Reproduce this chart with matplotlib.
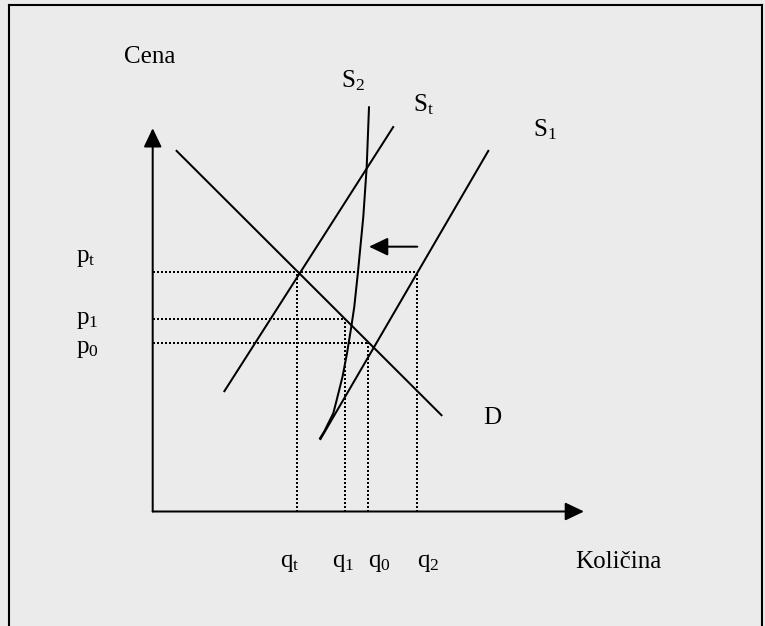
import matplotlib
matplotlib.use("Agg")
import matplotlib.pyplot as plt
from matplotlib.patches import FancyArrowPatch
from matplotlib.lines import Line2D

plt.rcParams["font.family"] = ["Liberation Serif", "DejaVu Serif"]
plt.rcParams["mathtext.fontset"] = "custom"
plt.rcParams["mathtext.rm"] = "Liberation Serif"
plt.rcParams["mathtext.it"] = "Liberation Serif"
plt.rcParams["mathtext.default"] = "regular"

# ── 데이터 (수량 q, 가격 p) ─────────────────────────────────────────────
demand_q = [0.554, 6.696]
demand_p = [9.408, 2.512]

st_q = [1.662, 5.576]
st_p = [3.139, 10.03]

s1_q = [3.891, 7.781]
s1_p = [1.891, 9.408]

s2_q = [3.879, 3.983, 4.071, 4.187, 4.266, 4.401, 4.505, 4.605, 4.674, 4.760, 4.883, 4.962, 5.015]
s2_p = [1.910, 2.100, 2.301, 2.562, 2.909, 3.517, 4.127, 4.821, 5.343, 6.256, 7.691, 8.996, 10.545]

price_names = ["p_t", "p_1", "p_0"]
price_levels = [6.261, 5.012, 4.388]
price_ends = [6.128, 4.456, 4.999]

qty_names = ["q_t", "q_1", "q_0", "q_2"]
qty_levels = [3.346, 4.456, 4.999, 6.128]
qty_tops = [6.261, 5.012, 4.388, 6.261]

shift_q = [6.135, 5.015]
shift_p = 6.909

axis_max = 10.0

# ── 그림 ────────────────────────────────────────────────────────────────
W, H = 765, 626
X0, Y0, SX, SY = 152.7, 511.5, 43.13, 38.33
bg = "#ebebeb"

fig = plt.figure(figsize=(W / 100, H / 100), dpi=100, facecolor=bg)
ax = fig.add_axes([0, 0, 1, 1])
ax.set_facecolor(bg)
ax.set_xlim(-X0 / SX, (W - X0) / SX)
ax.set_ylim((Y0 - H) / SY, Y0 / SY)
ax.axis("off")

lw = 1.45
# 곡선들
ax.plot(demand_q, demand_p, color="black", lw=lw)
ax.plot(st_q, st_p, color="black", lw=lw)
ax.plot(s1_q, s1_p, color="black", lw=lw)
ax.plot(s2_q, s2_p, color="black", lw=lw, solid_joinstyle="round")

# 점선
dot = dict(color="black", lw=1.1, linestyle=(0, (1, 1.7)), antialiased=False)
for lvl, end in zip(price_levels, price_ends):
    ax.plot([0, end], [lvl, lvl], **dot)
for lvl, top in zip(qty_levels, qty_tops):
    ax.plot([lvl, lvl], [0, top], **dot)

# 축 화살표
def arrow(x0, y0, x1, y1):
    a = FancyArrowPatch((x0, y0), (x1, y1), arrowstyle="-|>,head_length=1.15,head_width=0.55",
                        mutation_scale=10, color="black", lw=lw, shrinkA=0, shrinkB=0)
    ax.add_patch(a)

arrow(0, 0, 0, axis_max)
arrow(0, 0, axis_max, 0)
arrow(shift_q[0], shift_p, shift_q[1], shift_p)

# 텍스트
fs = 18
ax.text(-0.665, 11.69, "Cena", fontsize=fs, ha="left", va="baseline")
ax.text(9.791, -1.482, "Količina", fontsize=fs, ha="left", va="baseline")
ax.text(4.366, 11.06, "$S_2$", fontsize=fs, ha="left", va="baseline")
ax.text(6.028, 10.43, "$S_t$", fontsize=fs, ha="left", va="baseline")
ax.text(8.81, 9.78, "$S_1$", fontsize=fs, ha="left", va="baseline")
ax.text(7.658, 2.283, "D", fontsize=fs, ha="left", va="baseline")

price_label_y = [6.517, 4.884, 4.148]
for name, y in zip(price_names, price_label_y):
    ax.text(-1.785, y, f"${name}$", fontsize=fs, ha="left", va="baseline")
qty_label_x = [2.952, 4.164, 4.985, 6.121]
for name, x in zip(qty_names, qty_label_x):
    ax.text(x, -1.44, f"${name}$", fontsize=fs, ha="left", va="baseline")

# 테두리
bx0, bx1, by0 = 8.5 / W, 762 / W, 1 - 4.5 / H
for xs, ys in [([bx0, bx0], [0, by0]), ([bx0, bx1], [by0, by0]), ([bx1, bx1], [by0, 0])]:
    fig.add_artist(Line2D(xs, ys, transform=fig.transFigure, color="black", lw=1.5))

fig.savefig("out.png", dpi=100, facecolor=bg)
